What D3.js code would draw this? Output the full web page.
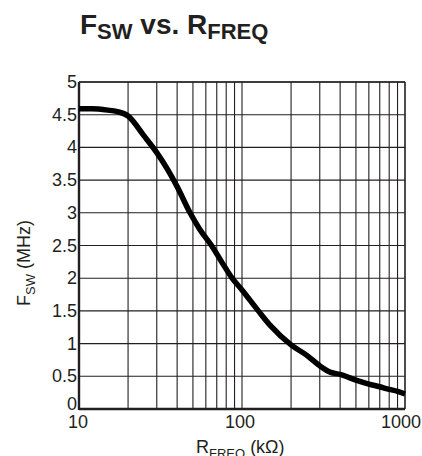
<!DOCTYPE html>
<html>
<head>
<meta charset="utf-8">
<script src="https://cdn.jsdelivr.net/npm/d3@7"></script>
<style>
  body { margin: 0; background: #fff; }
  svg text { font-family: "Liberation Sans", Arial, sans-serif; fill: #231f20; }
</style>
</head>
<body>
<div id="chart"></div>
<script>
// curve: R_FREQ (kOhm) -> F_SW (MHz)
const rFreq = [10, 12, 15, 17, 20, 25, 30, 35, 40, 48, 55, 65, 75, 87, 100, 126, 150, 200, 250, 300, 350, 400, 500, 600, 700, 800, 900, 1000];
const fsw = [4.59, 4.59, 4.57, 4.55, 4.48, 4.18, 3.92, 3.66, 3.40, 3.0, 2.75, 2.5, 2.25, 2.0, 1.82, 1.5, 1.27, 0.98, 0.82, 0.66, 0.56, 0.53, 0.44, 0.38, 0.34, 0.30, 0.27, 0.23];

const yTicks = [0, 0.5, 1, 1.5, 2, 2.5, 3, 3.5, 4, 4.5, 5];
const yTickLabels = ["0", "0.5", "1", "1.5", "2", "2.5", "3", "3.5", "4", "4.5", "5"];
const xTicks = [10, 100, 1000];

const width = 422, height = 456;
const margin = {left: 79, right: 17, top: 82, bottom: 47};

const svg = d3.select('#chart').append('svg')
    .attr('width', width)
    .attr('height', height);

const x = d3.scaleLog()
    .domain([10, 1000])
    .range([margin.left, width - margin.right]);

const y = d3.scaleLinear()
    .domain([0, 5])
    .range([height - margin.bottom, margin.top]);

// minor grid: 1..9 x each decade
let xGrid = [];
[10, 100].forEach(d => {
    for (let k = 1; k < 10; k++) xGrid.push(d * k);
});

svg.append('g')
    .selectAll('line')
    .data(xGrid)
    .enter()
    .append('line')
    .attr('x1', d => x(d)).attr('x2', d => x(d))
    .attr('y1', y(0)).attr('y2', y(5))
    .attr('stroke', '#231f20')
    .attr('stroke-width', 1.1);

svg.append('g')
    .selectAll('line')
    .data(yTicks)
    .enter()
    .append('line')
    .attr('x1', x(10)).attr('x2', x(1000))
    .attr('y1', d => y(d)).attr('y2', d => y(d))
    .attr('stroke', '#231f20')
    .attr('stroke-width', 1.1);

// frame
svg.append('line')
    .attr('x1', x(10)).attr('x2', x(1000))
    .attr('y1', y(5)).attr('y2', y(5))
    .attr('stroke', '#231f20').attr('stroke-width', 1.6);
svg.append('line')
    .attr('x1', x(1000)).attr('x2', x(1000))
    .attr('y1', y(0)).attr('y2', y(5))
    .attr('stroke', '#231f20').attr('stroke-width', 1.6);
svg.append('line')
    .attr('x1', x(10)).attr('x2', x(10))
    .attr('y1', y(0) + 1).attr('y2', y(5))
    .attr('stroke', '#231f20').attr('stroke-width', 2.4);
svg.append('line')
    .attr('x1', x(10)).attr('x2', x(1000))
    .attr('y1', y(0)).attr('y2', y(0))
    .attr('stroke', '#231f20').attr('stroke-width', 2.4);

// tick labels
svg.append('g')
    .selectAll('text')
    .data(yTicks)
    .enter()
    .append('text')
    .attr('x', x(10) - 2)
    .attr('y', d => y(d) + (d === 0 ? 1 : 6))
    .attr('text-anchor', 'end')
    .style('font-size', '18px')
    .text((d, i) => yTickLabels[i]);

svg.append('g')
    .selectAll('text')
    .data(xTicks)
    .enter()
    .append('text')
    .attr('x', (d, i) => x(d) + [-1, -2, -4][i])
    .attr('y', y(0) + 19)
    .attr('text-anchor', 'middle')
    .style('font-size', '18px')
    .text(d => d);

// curve
const line = d3.line()
    .x(d => x(d[0]))
    .y(d => y(d[1]))
    .curve(d3.curveMonotoneX);

svg.append('path')
    .datum(rFreq.map((r, i) => [r, fsw[i]]))
    .attr('d', line)
    .attr('fill', 'none')
    .attr('stroke', '#000')
    .attr('stroke-width', 5.5)
    .attr('stroke-linejoin', 'round');

// title
const title = svg.append('text')
    .attr('x', 80)
    .attr('y', 34)
    .style('font-weight', 'bold')
    .style('font-size', '28px');
title.append('tspan').text('F');
title.append('tspan').attr('dy', 5).style('font-size', '22px').text('SW');
title.append('tspan').attr('dy', -5).text(' vs. R');
title.append('tspan').attr('dy', 5).style('font-size', '22px').text('FREQ');

// x label
const xl = svg.append('text')
    .attr('x', 196)
    .attr('y', 453)
    .style('font-size', '18px');
xl.append('tspan').text('R');
xl.append('tspan').attr('dy', 5).style('font-size', '13px').text('FREQ');
xl.append('tspan').attr('dy', -5).text(' (k\u03A9)');

// y label
const yl = svg.append('text')
    .attr('transform', 'translate(30,' + 306 + ') rotate(-90)')
    .style('font-size', '18px');
yl.append('tspan').text('F');
yl.append('tspan').attr('dy', 5).style('font-size', '13px').text('SW');
yl.append('tspan').attr('dy', -5).text(' (MHz)');
</script>
</body>
</html>
